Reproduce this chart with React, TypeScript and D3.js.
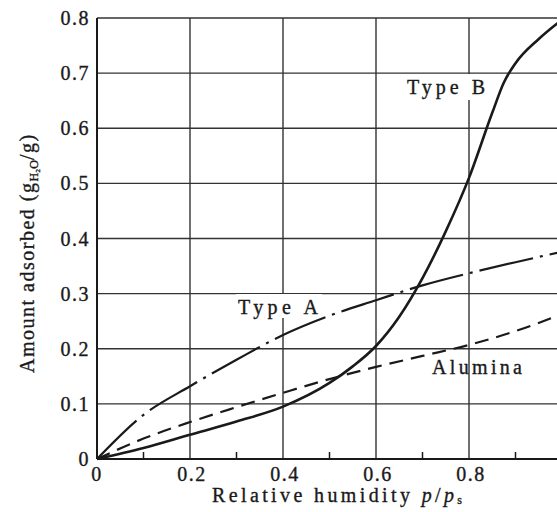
import React from 'react';
import * as d3 from 'd3';

// relative humidity p/ps
const rh = [0, 0.1, 0.2, 0.3, 0.4, 0.5, 0.6, 0.7, 0.8, 0.9, 1.0];

// amount adsorbed (g H2O / g)
const typeA = [0, 0.08, 0.132, 0.18, 0.225, 0.26, 0.288, 0.315, 0.337, 0.357, 0.376];
const alumina = [0, 0.037, 0.067, 0.094, 0.12, 0.145, 0.167, 0.187, 0.207, 0.232, 0.263];

const typeBX = [0, 0.1, 0.2, 0.3, 0.4, 0.5, 0.55, 0.6, 0.65, 0.7, 0.75, 0.8, 0.85, 0.875, 0.9, 0.95, 1.0];
const typeBY = [0, 0.02, 0.044, 0.068, 0.095, 0.138, 0.168, 0.205, 0.258, 0.328, 0.413, 0.51, 0.628, 0.683, 0.718, 0.762, 0.797];

const xTicks = [0, 0.2, 0.4, 0.6, 0.8];
const xMinor = [0.1, 0.3, 0.5, 0.7, 0.9];
const yTicks = [0, 0.1, 0.2, 0.3, 0.4, 0.5, 0.6, 0.7, 0.8];

const W = 557;
const H = 512;
const font = '"Liberation Serif", "DejaVu Serif", serif';

export default function App() {
  const x = d3.scaleLinear().domain([0, 1]).range([97, 562]);
  const y = d3.scaleLinear().domain([0, 0.8]).range([459, 18]);

  const line = d3
    .line<[number, number]>()
    .x((d) => x(d[0]))
    .y((d) => y(d[1]))
    .curve(d3.curveMonotoneX);

  const pathA = line(rh.map((v, i) => [v, typeA[i]] as [number, number])) || '';
  const pathAl = line(rh.map((v, i) => [v, alumina[i]] as [number, number])) || '';
  const pathB = line(typeBX.map((v, i) => [v, typeBY[i]] as [number, number])) || '';

  const fmt = (v: number) => (v === 0 ? '0' : v.toFixed(1));
  const ink = '#1a1a1a';
  const textStroke = { stroke: ink, strokeWidth: 0.35 };

  return (
    <svg
      width={W}
      height={H}
      style={{ position: 'absolute', left: 0, top: 0, background: '#fff' }}
      fontFamily={font}
    >
      {/* grid */}
      <g stroke="#333" strokeWidth={1.4}>
        {xTicks.slice(1).map((t) => (
          <line key={'gx' + t} x1={x(t)} x2={x(t)} y1={y(0)} y2={y(0.8)} />
        ))}
        {yTicks.slice(1).map((t) => (
          <line key={'gy' + t} x1={x(0)} x2={W} y1={y(t)} y2={y(t)} />
        ))}
      </g>
      {/* minor ticks on x axis */}
      <g stroke={ink} strokeWidth={1.5}>
        {xMinor.map((t) => (
          <line key={'m' + t} x1={x(t)} x2={x(t)} y1={y(0)} y2={y(0) - 7} />
        ))}
      </g>
      {/* axes */}
      <line x1={x(0)} x2={x(0)} y1={y(0)} y2={y(0.8)} stroke={ink} strokeWidth={2} />
      <line x1={x(0)} x2={W} y1={y(0)} y2={y(0)} stroke={ink} strokeWidth={2} />

      {/* label backgrounds that break the grid */}
      <rect x={404} y={74} width={84} height={26} fill="#fff" />
      <rect x={236} y={294} width={86} height={24} fill="#fff" />

      {/* curves */}
      <path d={pathAl} fill="none" stroke={ink} strokeWidth={2.2} strokeDasharray="14,8" />
      <path d={pathA} fill="none" stroke={ink} strokeWidth={2.2} strokeDasharray="55,7,3,7" />
      <path d={pathB} fill="none" stroke={ink} strokeWidth={2.6} />

      {/* y tick labels */}
      <g fontSize={20} fill={ink} textAnchor="end" letterSpacing={1.5} {...textStroke}>
        {yTicks.map((t) => (
          <text key={'yl' + t} x={x(0) - 7} y={y(t) + 7}>
            {fmt(t)}
          </text>
        ))}
      </g>
      {/* x tick labels */}
      <g fontSize={20} fill={ink} textAnchor="middle" letterSpacing={1.5} {...textStroke}>
        {xTicks.map((t) => (
          <text key={'xl' + t} x={x(t) + (t === 0 ? 0 : 2)} y={481}>
            {fmt(t)}
          </text>
        ))}
      </g>

      {/* series labels */}
      <g fontSize={20} fill={ink} {...textStroke}>
        <text x={407} y={94} textLength={78} lengthAdjust="spacing">
          Type B
        </text>
        <text x={238} y={314} textLength={80} lengthAdjust="spacing">
          Type A
        </text>
        <text x={432} y={374} textLength={90} lengthAdjust="spacing">
          Alumina
        </text>
      </g>

      {/* axis titles */}
      <text x={212} y={502} fontSize={20} fill={ink} textLength={250} lengthAdjust="spacing" {...textStroke}>
        Relative humidity{' '}
        <tspan fontStyle="italic">p</tspan>/<tspan fontStyle="italic">p</tspan>
        <tspan fontSize={12} dy={2}>s</tspan>
      </text>
      <text
        transform={`translate(34, 373) rotate(-90)`}
        fontSize={20}
        fill={ink}
        letterSpacing={1.5}
        {...textStroke}
      >
        Amount adsorbed (g<tspan fontSize={12} dy={4} letterSpacing={0}>H₂O</tspan>
        <tspan dy={-4}>/g)</tspan>
      </text>
    </svg>
  );
}
